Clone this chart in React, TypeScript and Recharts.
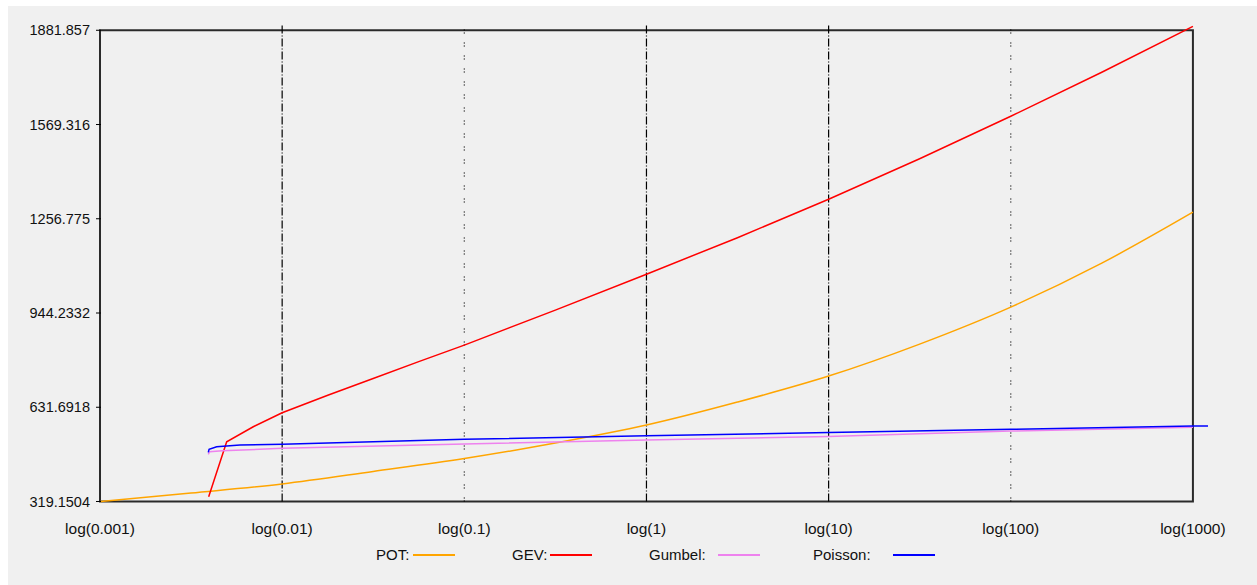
import { LineChart, Line, XAxis, YAxis, ReferenceLine, ReferenceArea } from "recharts";

// return period axis (log) and value ticks
const X_TICKS = [0.001, 0.01, 0.1, 1, 10, 100, 1000];
const GRID_DASH_DOT = [0.01, 1, 10];
const GRID_DOTTED = [0.1, 100];
const Y_TICKS = [319.1504, 631.6918, 944.2332, 1256.7746, 1569.316, 1881.857];
const Y_TICK_LABELS = ["319.1504", "631.6918", "944.2332", "1256.775", "1569.316", "1881.857"];

const POT_X = [0.001, 0.00316, 0.01, 0.0316, 0.1, 0.316, 1, 3.16, 10, 31.6, 100, 316, 1000];
const POT_Y = [319.15, 347.3, 377.2, 418.6, 461.7, 513.0, 572.7, 648.9, 735.1, 841.1, 963.8, 1109.6, 1278.6];

const GEV_X = [0.00395, 0.00496, 0.00694, 0.01, 0.0178, 0.0316, 0.0562, 0.1, 0.316, 1, 3.16, 10, 31.6, 100, 316, 1000];
const GEV_Y = [335, 517, 567, 613.4, 671.5, 727, 783, 837.8, 953.8, 1073, 1194, 1321.6, 1455.9, 1596.7, 1742.5, 1895];

const GUMBEL_X = [0.00393, 0.004, 0.0047, 0.01, 0.1, 1, 10, 100, 1000];
const GUMBEL_Y = [475.6, 484.2, 487.5, 495.5, 509.7, 523, 534.6, 552.8, 565];

const POISSON_X = [0.00393, 0.00397, 0.00437, 0.00587, 0.01, 0.1, 1, 10, 100, 1000, 1210];
const POISSON_Y = [482.2, 492.1, 500.8, 506.4, 508.7, 525.3, 537.2, 547.8, 558.4, 569.4, 569.4];

const toPoints = (xs: number[], ys: number[]) => xs.map((x, i) => ({ x, y: ys[i] }));

const SERIES = [
  { name: "POT", color: "#ffa500", curve: "monotone", data: toPoints(POT_X, POT_Y) },
  { name: "GEV", color: "#ff0000", curve: "linear", data: toPoints(GEV_X, GEV_Y) },
  { name: "Gumbel", color: "#ee82ee", curve: "linear", data: toPoints(GUMBEL_X, GUMBEL_Y) },
  { name: "Poisson", color: "#0000ff", curve: "linear", data: toPoints(POISSON_X, POISSON_Y) },
];

// legend placement: [text left, line left]
const LEGEND_POS = [
  [368, 405],
  [504, 542],
  [641, 710],
  [805, 885],
];

const FONT = '"Liberation Sans", Arial, sans-serif';

function YTick(props: any) {
  const { x, y, index } = props;
  return (
    <g>
      <line x1={x - 4} x2={x + 1} y1={y} y2={y} stroke="#000" />
      <text x={x - 10} y={y} dy="0.355em" textAnchor="end" fontSize={14.5} fontFamily={FONT} fill="#111">
        {Y_TICK_LABELS[index]}
      </text>
    </g>
  );
}

export default function App() {
  return (
    <div style={{ position: "absolute", left: 8, top: 6, width: 1249, height: 579, background: "#f0f0f0" }}>
      <LineChart width={1249} height={579} margin={{ top: 18.8, right: 49, bottom: 53.5, left: 12 }}>
        <XAxis
          dataKey="x"
          type="number"
          scale="log"
          domain={[0.001, 1210]}
          ticks={X_TICKS}
          interval={0}
          tickFormatter={(v) => `log(${v})`}
          axisLine={false}
          tickLine={false}
          tickSize={0}
          tickMargin={21}
          height={30}
          tick={{ fontSize: 15.5, fontFamily: FONT, fill: "#111" }}
          allowDuplicatedCategory={false}
        />
        <YAxis
          type="number"
          domain={[319.1504, 1900]}
          ticks={Y_TICKS}
          interval={0}
          axisLine={false}
          tickLine={false}
          tickSize={0}
          tickMargin={0}
          width={80}
          tick={<YTick />}
        />
        {GRID_DASH_DOT.map((v) => (
          <ReferenceLine key={"dd" + v} x={v} stroke="#000" strokeWidth={1.2} strokeDasharray="8 2 1 2" />
        ))}
        {GRID_DOTTED.map((v) => (
          <ReferenceLine key={"dt" + v} x={v} stroke="#000" strokeWidth={1.2} strokeDasharray="1 2 1 9" />
        ))}
        <ReferenceArea x1={0.001} x2={1000} y1={319.1504} y2={1881.857} fill="none" fillOpacity={0} stroke="#2a2a2a" strokeWidth={2} />
        {SERIES.map((s) => (
          <Line
            key={s.name}
            data={s.data}
            dataKey="y"
            name={s.name}
            type={s.curve as any}
            stroke={s.color}
            strokeWidth={1.5}
            dot={false}
            activeDot={false}
            isAnimationActive={false}
          />
        ))}
      </LineChart>
      {SERIES.map((s, i) => (
        <div key={s.name}>
          <span
            style={{
              position: "absolute",
              left: LEGEND_POS[i][0],
              top: 540,
              fontSize: 15,
              fontFamily: FONT,
              color: "#111",
              lineHeight: "18px",
            }}
          >
            {s.name}:
          </span>
          <div
            style={{
              position: "absolute",
              left: LEGEND_POS[i][1],
              top: 548,
              width: 42,
              height: 2,
              background: s.color,
            }}
          />
        </div>
      ))}
    </div>
  );
}
